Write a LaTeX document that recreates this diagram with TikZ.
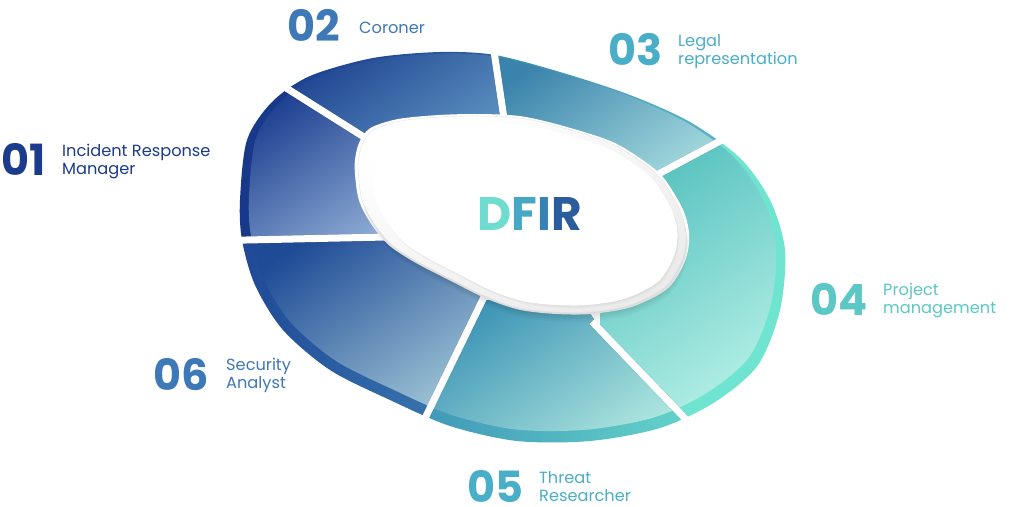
\documentclass[tikz,border=0pt]{standalone}
\usepackage{fontspec}
\setmainfont{Poppins}
\definecolor{t1}{HTML}{1B3B8C}
\definecolor{t2}{HTML}{3D78B7}
\definecolor{t3}{HTML}{49AFC8}
\definecolor{t4}{HTML}{5BC8C5}
\definecolor{dA}{HTML}{6FDCD0}
\definecolor{dB}{HTML}{48A8C4}
\definecolor{dC}{HTML}{3583B5}
\definecolor{dD}{HTML}{2A5C9E}
\definecolor{sa1}{HTML}{18388A}\definecolor{sb1}{HTML}{18388A}\definecolor{fa1}{HTML}{1B3D8F}\definecolor{fb1}{HTML}{8AA8D2}
\definecolor{sa2}{HTML}{1C418F}\definecolor{sb2}{HTML}{2A5C9E}\definecolor{fa2}{HTML}{1E4390}\definecolor{fb2}{HTML}{5B90BF}
\definecolor{sa3}{HTML}{3D8DB0}\definecolor{sb3}{HTML}{5BB8C8}\definecolor{fa3}{HTML}{3A83AC}\definecolor{fb3}{HTML}{A8DDDF}
\definecolor{sa4}{HTML}{6FE4D1}\definecolor{sb4}{HTML}{6FE4D1}\definecolor{fa4}{HTML}{55C0BE}\definecolor{fb4}{HTML}{B4F0E6}
\definecolor{sa5}{HTML}{3F96B7}\definecolor{sb5}{HTML}{64D4CB}\definecolor{fa5}{HTML}{3A92B4}\definecolor{fb5}{HTML}{AEE6DF}
\definecolor{sa6}{HTML}{1F4896}\definecolor{sb6}{HTML}{3D7FB3}\definecolor{fa6}{HTML}{1E4A96}\definecolor{fb6}{HTML}{9CC2D4}
\definecolor{lensrim}{HTML}{EBEBEB}
\definecolor{lensline}{HTML}{E4E4E4}
\newcommand\outerplot{plot[smooth cycle] coordinates {(240,200) (247,140) (272,102) (310,76) (373,58) (440,52) (495,55) (560,72) (630,95) (690,122) (740,158) (770,200) (785,250) (780,310) (758,365) (715,402) (660,428) (590,441) (517,441) (450,426) (390,400) (330,370) (283,330) (255,285) (242,240)}}
\newcommand\lensplot{plot[smooth cycle] coordinates {(358,167) (362,200) (375,225) (392,245) (418,262) (453,280) (487,297) (520,308) (555,312) (590,312) (630,305) (665,287) (682,260) (686,235) (680,210) (662,180) (643,163) (610,143) (560,127) (520,118) (480,116) (440,117) (400,121) (373,130) (362,145)}}
\newcommand\ringseg[6]{%
  \begin{scope}
    \clip \outerplot;
    \clip #1;
    \shade[left color=#3,right color=#4] #2;
    \clip[shift={(512,243)},scale=0.967,shift={(-512,-248)}] \outerplot;
    \shade[top color=#5,bottom color=#6,shading angle=35] #2;
  \end{scope}}
\begin{document}
\begin{tikzpicture}[x=1pt,y=-1pt,
  gapline/.style={white,line width=7pt},
  gapshadow/.style={black,opacity=0.08,line width=8pt},
  num/.style={font=\fontsize{43}{43}\selectfont\bfseries,anchor=base west,inner sep=0pt},
  lbl/.style={font=\fontsize{16.2}{17.8}\selectfont,anchor=base west,align=left,inner sep=0pt}]
\useasboundingbox (0,0) rectangle (1024,506);
\fill[white] (0,0) rectangle (1024,506);
% gap geometry
\coordinate (C) at (525,215);
\coordinate (g1p) at (388,237); \coordinate (g1f) at (150,242); \coordinate (g1i) at (410,236.5); \coordinate (g1o) at (199,241);
\coordinate (g2p) at (367,139); \coordinate (g2f) at (209,39);  \coordinate (g2i) at (379,146.5); \coordinate (g2o) at (264,74);
\coordinate (g3p) at (504,119); \coordinate (g3f) at (486,0);   \coordinate (g3i) at (505.4,128); \coordinate (g3o) at (492.3,39.7);
\coordinate (g4p) at (660,173); \coordinate (g4f) at (798,99);  \coordinate (g4i) at (651,178); \coordinate (g4o) at (738,131.4);
\coordinate (g5p) at (603,333); \coordinate (g5f) at (751,487); \coordinate (g5i) at (592,321.5); \coordinate (g5o) at (699,433);
\coordinate (g6p) at (477,312); \coordinate (g6f) at (384,506); \coordinate (g6i) at (484,297); \coordinate (g6o) at (413,443);
% ring segments
\ringseg{(g1p) -- (g1f) -- (150,39) -- (g2f) -- (g2p) -- (C) -- cycle}{(238,85) rectangle (400,250)}{sa1}{sb1}{fa1}{fb1}
\ringseg{(g2p) -- (g2f) -- (209,0) -- (g3f) -- (g3p) -- (C) -- cycle}{(280,50) rectangle (505,150)}{sa2}{sb2}{fa2}{fb2}
\ringseg{(g3p) -- (g3f) -- (800,0) -- (g4f) -- (g4p) -- (C) -- cycle}{(490,52) rectangle (735,185)}{sa3}{sb3}{fa3}{fb3}
\ringseg{(g4p) -- (g4f) -- (850,99) -- (850,487) -- (g5f) -- (g5p) -- (C) -- cycle}{(600,135) rectangle (790,420)}{sa4}{sb4}{fa4}{fb4}
\ringseg{(g5p) -- (g5f) -- (751,506) -- (g6f) -- (g6p) -- (C) -- cycle}{(415,300) rectangle (690,445)}{sa5}{sb5}{fa5}{fb5}
\ringseg{(g6p) -- (g6f) -- (150,506) -- (g1f) -- (g1p) -- (C) -- cycle}{(238,235) rectangle (485,420)}{sa6}{sb6}{fa6}{fb6}
% gaps
\begin{scope}
\clip \outerplot;
\foreach \a/\b in {g1i/g1o,g2i/g2o,g3i/g3o,g4i/g4o,g5i/g5o,g6i/g6o}{\draw[gapshadow,shift={(1.5,2)}] (\a) -- (\b);}
\end{scope}
\draw[gapline] (g1i) -- (g1o);
\draw[gapline] (g2i) -- (g2o);
\draw[gapline] (g3i) -- (g3o);
\draw[gapline] (g4i) -- (g4o);
\draw[gapline] (g5i) -- (g5o);
\draw[gapline] (g6i) -- (g6o);
% central lens
\fill[white,shift={(525,215)},scale=1.02,shift={(-525,-215)}] \lensplot;
\foreach \k in {1,...,6}{\fill[black,opacity=0.022,shift={({0.4*\k},{1.6*\k})}] \lensplot;}
\shade[top color=white,bottom color=lensrim,shading angle=25,draw=lensline,line width=0.4pt] \lensplot;
\foreach \k in {1,...,3}{\fill[black,opacity=0.018,shift={(565,212)},scale=0.93,shift={({-565+0.6*\k},{-212+1.0*\k})}] \lensplot;}
\fill[white,shift={(565,212)},scale=0.93,shift={(-565,-212)}] \lensplot;
% title
\node (dfir) [font=\fontsize{47}{47}\selectfont\bfseries,anchor=base,inner sep=0pt] at (530,230) {\textcolor{dA}{D}\textcolor{dB}{F}\textcolor{dC}{I}\textcolor{dD}{R}};
% labels
\node (n1) [num,text=t1] at (1,175) {01};
\node (l1) [lbl,text=t1] at (62,174.3) {Incident Response\\Manager};
\node (n2) [num,text=t2] at (287,41.7) {02};
\node (l2) [lbl,text=t2] at (359,33.3) {Coroner};
\node (n3) [num,text=t3] at (608,65) {03};
\node (l3) [lbl,text=t3] at (678,64.3) {Legal\\representation};
\node (n4) [num,text=t4] at (810,315) {04};
\node (l4) [lbl,text=t4] at (883,313.3) {Project\\management};
\node (n5) [num,text=t3] at (467,502) {05};
\node (l5) [lbl,text=t3] at (539,501.7) {Threat\\Researcher};
\node (n6) [num,text=t2] at (153,390) {06};
\node (l6) [lbl,text=t2] at (226,388.3) {Security\\Analyst};
\end{tikzpicture}
\end{document}
